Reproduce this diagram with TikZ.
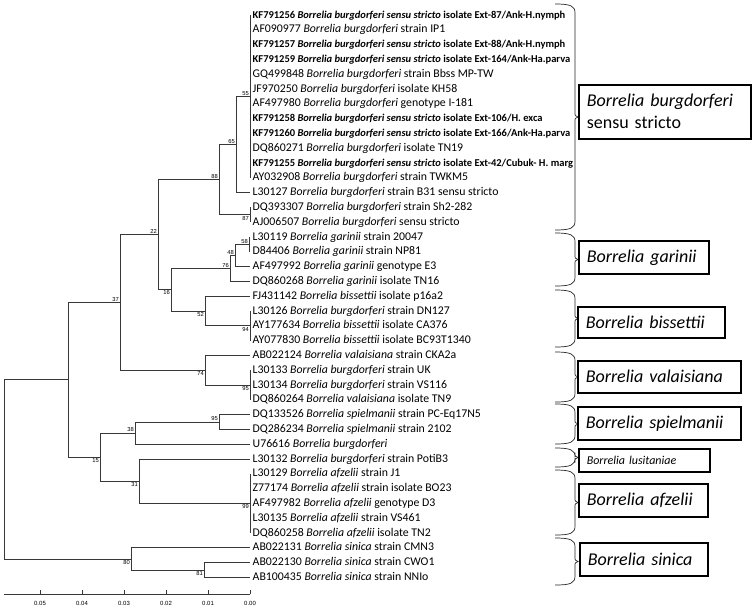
\documentclass[tikz,border=0pt]{standalone}
\usepackage{fontspec}
\setmainfont{Carlito}
\newfontfamily\bootfont{Liberation Sans}
\colorlet{branch line}{black!78}
\colorlet{brace line}{black!85}
\tikzset{branch/.style={draw=branch line, line width=0.75pt},
    leaf/.style={anchor=west, inner xsep=2.5pt, inner ysep=0pt, text height=8.5pt,
        text depth=2.5pt, font=\fontsize{11.8}{12}\selectfont},
    boot/.style={inner sep=1pt, font=\bootfont\fontsize{5.8}{6}\selectfont, text=black},
    bracket/.style={draw=brace line, line width=0.7pt},
    clade/.style={draw, fill=white, line width=1.6pt, anchor=north west, inner xsep=8pt,
        align=left, font=\fontsize{18}{22}\selectfont}}
\def\bbur{\textit{Borrelia burgdorferi}}
\def\bbss{\textit{Borrelia burgdorferi sensu stricto}}
\def\bgar{\textit{Borrelia garinii}}
\def\bbis{\textit{Borrelia bissettii}}
\def\bval{\textit{Borrelia valaisiana}}
\def\bspi{\textit{Borrelia spielmanii}}
\def\bafz{\textit{Borrelia afzelii}}
\def\bsin{\textit{Borrelia sinica}}
\def\newisolate#1{{\fontsize{10.5}{11}\selectfont\bfseries #1}}
\def\cladebrace#1#2{%
  \draw[bracket] (555,#1) .. controls (571,#1) and (575,{#1+2}) .. (575,{#1+9})
    -- (575,{(#1+#2)/2-5}) .. controls (575,{(#1+#2)/2-1}) .. (578,{(#1+#2)/2})
    .. controls (575,{(#1+#2)/2+1}) .. (575,{(#1+#2)/2+5})
    -- (575,{#2-9}) .. controls (575,{#2-2}) and (571,#2) .. (555,#2);}

\begin{document}
\begin{tikzpicture}[x=1pt,y=-1pt]
\useasboundingbox (0,0) rectangle (754,614);
% taxa, top to bottom
\foreach \txt [count=\i from 0] in {
    {\newisolate{KF791256 \bbss{} isolate Ext-87/Ank-H.nymph}},
    {AF090977 \bbur{} strain IP1},
    {\newisolate{KF791257 \bbss{} isolate Ext-88/Ank-H.nymph}},
    {\newisolate{KF791259 \bbss{} isolate Ext-164/Ank-Ha.parva}},
    {GQ499848 \bbur{} strain Bbss MP-TW},
    {JF970250 \bbur{} isolate KH58},
    {AF497980 \bbur{} genotype I-181},
    {\newisolate{KF791258 \bbss{} isolate Ext-106/H. exca}},
    {\newisolate{KF791260 \bbss{} isolate Ext-166/Ank-Ha.parva}},
    {DQ860271 \bbur{} isolate TN19},
    {\newisolate{KF791255 \bbss{} isolate Ext-42/Cubuk- H. marg}},
    {AY032908 \bbur{} strain TWKM5},
    {L30127 \bbur{} strain B31 sensu stricto},
    {DQ393307 \bbur{} strain Sh2-282},
    {AJ006507 \bbur{} sensu stricto},
    {L30119 \bgar{} strain 20047},
    {D84406 \bgar{} strain NP81},
    {AF497992 \bgar{} genotype E3},
    {DQ860268 \bgar{} isolate TN16},
    {FJ431142 \bbis{} isolate p16a2},
    {L30126 \bbur{} strain DN127},
    {AY177634 \bbis{} isolate CA376},
    {AY077830 \bbis{} isolate BC93T1340},
    {AB022124 \bval{} strain CKA2a},
    {L30133 \bbur{} strain UK},
    {L30134 \bbur{} strain VS116},
    {DQ860264 \bval{} isolate TN9},
    {DQ133526 \bspi{} strain PC-Eq17N5},
    {DQ286234 \bspi{} strain 2102},
    {U76616 \bbur},
    {L30132 \bbur{} strain PotiB3},
    {L30129 \bafz{} strain J1},
    {Z77174 \bafz{} strain isolate BO23},
    {AF497982 \bafz{} genotype D3},
    {L30135 \bafz{} strain VS461},
    {DQ860258 \bafz{} isolate TN2},
    {AB022131 \bsin{} strain CMN3},
    {AB022130 \bsin{} strain CWO1},
    {AB100435 \bsin{} strain NNIo}}
  \node[leaf] (l\i) at (250,{15+14.8*\i}) {\txt};

% internal nodes
\coordinate (root) at (4,469.35);
\coordinate (nIn) at (68,379.8);
\coordinate (n37) at (120,302.45);
\coordinate (n22) at (158,234.7);
\coordinate (n88) at (219,179.65);
\coordinate (n65) at (236,144.5);
\coordinate (n55) at (250,96.4);
\coordinate (n87) at (250,214.8);
\coordinate (n16) at (171,289.7);
\coordinate (n76) at (230,268.45);
\coordinate (n48) at (235,255.5);
\coordinate (n58) at (249,244.4);
\coordinate (n52) at (205,311);
\coordinate (n94) at (250,325.8);
\coordinate (n74) at (205,370.2);
\coordinate (n95v) at (250,385);
\coordinate (n15) at (100,457.15);
\coordinate (n38) at (135,433.1);
\coordinate (n95s) at (219,422);
\coordinate (n31) at (139,481.2);
\coordinate (n99) at (250,503.4);
\coordinate (n80) at (131,558.9);
\coordinate (n81) at (204,570);

% branches
\foreach \p/\c in {root/nIn, root/n80, nIn/n37, nIn/n15, n37/n22, n37/n74,
    n22/n88, n22/n16, n88/n65, n88/n87, n65/n55, n65/l12.west,
    n87/l13.west, n87/l14.west, n16/n76, n16/n52, n76/n48, n76/l18.west,
    n48/n58, n48/l17.west, n58/l15.west, n58/l16.west, n52/l19.west, n52/n94,
    n74/l23.west, n74/n95v, n15/n38, n15/n31, n38/n95s, n38/l29.west,
    n95s/l27.west, n95s/l28.west, n31/l30.west, n31/n99,
    n80/l36.west, n80/n81, n81/l37.west, n81/l38.west}
  \draw[branch] (\p) |- (\c);
\foreach \p/\a/\b in {n55/0/11, n94/20/22, n95v/24/26, n99/31/35}
  \foreach \i in {\a,...,\b}
    \draw[branch] (\p) |- (l\i.west);

% bootstrap values
\foreach \n/\v in {n55/55, n65/65, n88/88, n22/22, n37/37, n58/58, n48/48,
    n76/76, n95s/95, n38/38}
  \node[boot, above left] (lab-\n) at (\n) {\v};
\foreach \n/\v in {n87/87, n16/16, n52/52, n94/94, n74/74, n95v/95, n15/15,
    n31/31, n99/99, n80/80, n81/81}
  \node[boot, below left] (lab-\n) at (\n) {\v};

% scale
\draw[branch] (4,594) -- (250,594);
\foreach \k in {0,...,5} {
  \draw[branch] ({250-42*\k},594) -- ++(0,-4);
  \node[boot, font=\bootfont\fontsize{6}{7}\selectfont] (tick\k) at ({250-42*\k},603) {0.0\k};
}

% species brackets and boxes
\foreach \ya/\yb in {4/230, 233/286, 290/347, 352/402, 404/444, 448/467,
    470/535, 538/585}
  {\cladebrace{\ya}{\yb}}
\node[clade, minimum width=172pt, minimum height=54pt, text width=156pt] (bbss)
  at (578,84) {\textit{Borrelia burgdorferi}\\sensu stricto};
\node[clade, minimum width=130pt, minimum height=33pt, text width=114pt] (bgar)
  at (578,240) {\textit{Borrelia garinii}};
\node[clade, minimum width=147pt, minimum height=31pt, text width=131pt] (bbis)
  at (577,306) {\textit{Borrelia bissettii}};
\node[clade, minimum width=163pt, minimum height=32pt, text width=147pt] (bval)
  at (577,360) {\textit{Borrelia valaisiana}};
\node[clade, minimum width=163pt, minimum height=33pt, text width=147pt] (bspi)
  at (577,406) {\textit{Borrelia spielmanii}};
\node[clade, minimum width=131pt, minimum height=23pt, text width=115pt,
  font=\fontsize{12}{13}\selectfont] (blus) at (578,448) {\textit{Borrelia lusitaniae}};
\node[clade, minimum width=129pt, minimum height=33pt, text width=113pt] (bafz)
  at (578,483) {\textit{Borrelia afzelii}};
\node[clade, minimum width=128pt, minimum height=33pt, text width=112pt] (bsin)
  at (579,542) {\textit{Borrelia sinica}};
\end{tikzpicture}
\end{document}
